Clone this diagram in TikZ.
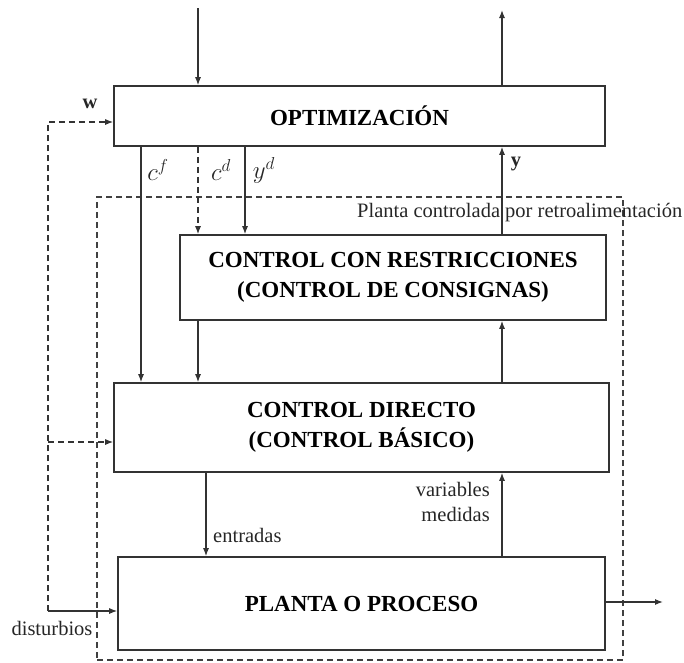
\documentclass[tikz,border=0pt]{standalone}
\usepackage{fontspec}
\setmainfont{Liberation Serif}
\usetikzlibrary{arrows.meta}
\tikzstyle{block} = [rectangle, draw=black!80, line width=1.6pt, text centered, align=center, font=\fontsize{23}{30}\selectfont\bfseries, inner sep=0pt]
\tikzstyle{lbl} = [inner sep=0pt, font=\fontsize{20.5}{25}\selectfont, text=black!85]
\tikzset{edge/.style = {
    draw=black!80, line width=1.2pt,
    -{Latex[length=8pt,width=6pt]},
  },
  dedge/.style = {edge, dash pattern=on 6pt off 4pt},
}

\begin{document}
\begin{tikzpicture}[x=1pt, y=-1pt]
              \useasboundingbox (0,0) rectangle (684,662);
              % vertices
              \node[block, minimum width=491pt, minimum height=60pt] (opt) at (359.5, 116) {OPTIMIZACIÓN};
              \node[block, minimum width=426pt, minimum height=85pt] (restr) at (393, 277.5) {CONTROL CON RESTRICCIONES\\(CONTROL DE CONSIGNAS)};
              \node[block, minimum width=495pt, minimum height=89pt] (dir) at (361.5, 427.5) {CONTROL DIRECTO\\(CONTROL BÁSICO)};
              \node[block, minimum width=487pt, minimum height=93pt] (pla) at (361.5, 603.5) {PLANTA O PROCESO};
              \node[draw=black!75, line width=1.1pt, dash pattern=on 6pt off 4pt, minimum width=526pt, minimum height=463pt, inner sep=0pt] (fb) at (360, 428.5) {};
              \node[lbl, anchor=west] (fblbl) at (357, 213) {Planta controlada por retroalimentación};

              % free ends
              \coordinate (in) at (198, 8);
              \coordinate (out) at (502, 10);
              \coordinate (dl) at (48, 611);
              \coordinate (fin) at (663, 602);
              \coordinate (xcf) at (141, 0);
              \coordinate (xcd) at (198, 0);
              \coordinate (xyd) at (245, 0);
              \coordinate (xy) at (502, 0);
              \coordinate (xu) at (206, 0);

              % edges
              \draw[edge] (in) to (in |- opt.north);
              \draw[edge] (out |- opt.north) to (out);
              \draw[edge] (xcf |- opt.south) to (xcf |- dir.north);
              \draw[dedge] (xcd |- opt.south) to (xcd |- restr.north);
              \draw[edge] (xyd |- opt.south) to (xyd |- restr.north);
              \draw[edge] (xy |- restr.north) to (xy |- opt.south);
              \draw[edge] (xcd |- restr.south) to (xcd |- dir.north);
              \draw[edge] (xy |- dir.north) to (xy |- restr.south);
              \draw[edge] (xu |- dir.south) to (xu |- pla.north);
              \draw[edge] (xy |- pla.north) to (xy |- dir.south);
              \draw[edge] (pla.east |- fin) to (fin);
              \draw[dedge] (dl) |- ([yshift=-6pt]opt.west);
              \draw[dedge] (dl |- 0,442) to (dir.west |- 0,442);
              \draw[edge] (dl) to (dl -| pla.west);

              % labels
              \node[lbl, font=\fontsize{20.5}{25}\selectfont\bfseries] (w) at (90, 104) {w};
              \node[lbl, font=\fontsize{23}{28}\selectfont] (cf) at (158, 170) {$c^f$};
              \node[lbl, font=\fontsize{23}{28}\selectfont] (cd) at (221, 170) {$c^d$};
              \node[lbl, font=\fontsize{23}{28}\selectfont] (yd) at (264, 170) {$y^d$};
              \node[lbl, font=\fontsize{20.5}{25}\selectfont\bfseries] (y) at (516, 164) {y};
              \node[lbl, anchor=west] (u) at (213, 535) {entradas};
              \node[lbl, anchor=east, align=right] (vm) at (490, 502) {variables\\medidas};
              \node[lbl] (dist) at (52, 628) {disturbios};
            \end{tikzpicture}
\end{document}
